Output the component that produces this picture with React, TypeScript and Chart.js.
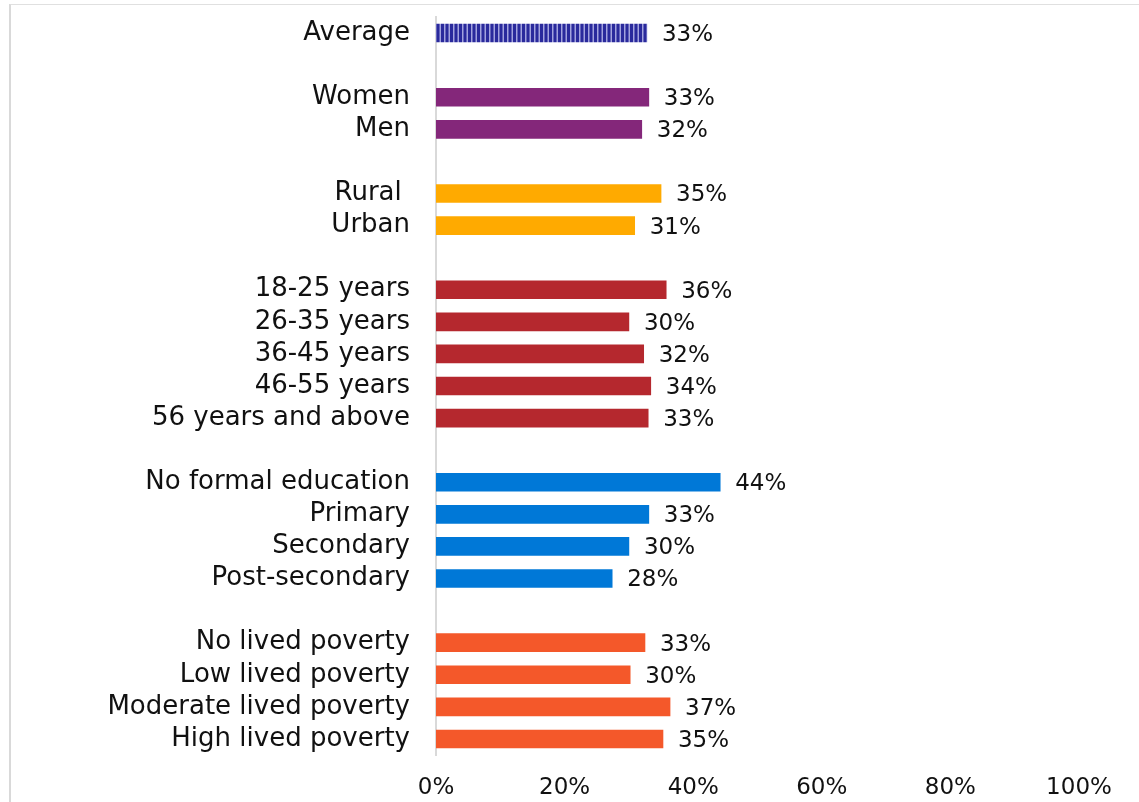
import React, { useEffect, useRef } from 'react';
import { Chart, registerables } from 'chart.js';

Chart.register(...registerables);

const categories = [
  'Average', '',
  'Women', 'Men', '',
  'Rural ', 'Urban', '',
  '18-25 years', '26-35 years', '36-45 years', '46-55 years', '56 years and above', '',
  'No formal education', 'Primary', 'Secondary', 'Post-secondary', '',
  'No lived poverty', 'Low lived poverty', 'Moderate lived poverty', 'High lived poverty',
];

const values: (number | null)[] = [
  32.8, null,
  33.1, 32.0, null,
  35.0, 30.9, null,
  35.8, 30.0, 32.3, 33.4, 33.0, null,
  44.2, 33.1, 30.0, 27.4, null,
  32.5, 30.2, 36.4, 35.3,
];

const valueLabels = [
  '33%', '',
  '33%', '32%', '',
  '35%', '31%', '',
  '36%', '30%', '32%', '34%', '33%', '',
  '44%', '33%', '30%', '28%', '',
  '33%', '30%', '37%', '35%',
];

const groupColors = [
  'pattern', '',
  '#84277A', '#84277A', '',
  '#FFAA00', '#FFAA00', '',
  '#B5282E', '#B5282E', '#B5282E', '#B5282E', '#B5282E', '',
  '#0078D7', '#0078D7', '#0078D7', '#0078D7', '',
  '#F4582A', '#F4582A', '#F4582A', '#F4582A',
];

const xTicks = [0, 20, 40, 60, 80, 100];

const FONT = '"DejaVu Sans", sans-serif';
const CAT_FONT_SIZE = 26;
const NUM_FONT_SIZE = 23;
const TEXT_COLOR = '#111111';

function makePattern(): CanvasPattern | string {
  const c = document.createElement('canvas');
  c.width = 9;
  c.height = 4;
  const ctx = c.getContext('2d');
  if (!ctx) return '#2E2E9E';
  ctx.fillStyle = '#A3A3DE';
  ctx.fillRect(0, 0, 9, 4);
  ctx.fillStyle = '#2A2A9C';
  ctx.fillRect(0, 0, 3, 4);
  ctx.fillRect(4.5, 0, 3, 4);
  const p = ctx.createPattern(c, 'repeat');
  return p || '#2E2E9E';
}

const labelPlugin = {
  id: 'valueLabels',
  afterDatasetsDraw(chart: any) {
    const ctx = chart.ctx;
    const meta = chart.getDatasetMeta(0);
    ctx.save();
    ctx.font = `${NUM_FONT_SIZE}px ${FONT}`;
    ctx.fillStyle = TEXT_COLOR;
    ctx.textAlign = 'left';
    ctx.textBaseline = 'middle';
    meta.data.forEach((bar: any, i: number) => {
      if (values[i] == null) return;
      ctx.fillText(valueLabels[i], bar.x + 15, bar.y + 2);
    });
    ctx.restore();
  },
};

export default function App() {
  const ref = useRef<HTMLCanvasElement>(null);

  useEffect(() => {
    if (!ref.current) return;
    const pattern = makePattern();
    const colors = groupColors.map((c) => (c === 'pattern' ? pattern : c || 'transparent'));
    const chart = new Chart(ref.current, {
      type: 'bar',
      data: {
        labels: categories,
        datasets: [
          {
            data: values,
            backgroundColor: colors as any,
            barThickness: 18,
            borderWidth: 0,
          },
        ],
      },
      options: {
        indexAxis: 'y',
        responsive: false,
        animation: false,
        maintainAspectRatio: false,
        layout: { padding: { top: 17, right: 60, left: 0, bottom: 0 } },
        plugins: {
          legend: { display: false },
          tooltip: { enabled: false },
        },
        scales: {
          x: {
            min: 0,
            max: 100,
            afterBuildTicks: (scale: any) => {
              scale.ticks = xTicks.map((v) => ({ value: v }));
            },
            afterFit: (scale: any) => {
              scale.height = 47;
              scale.paddingLeft = 0;
              scale.paddingRight = 0;
            },
            grid: { display: false, drawTicks: false },
            border: { display: false },
            ticks: {
              padding: 19,
              color: TEXT_COLOR,
              font: { family: FONT, size: NUM_FONT_SIZE },
              callback: (v: any) => `${v}%`,
              maxRotation: 0,
            },
          },
          y: {
            afterFit: (scale: any) => {
              scale.width = 436;
              scale.paddingTop = 0;
              scale.paddingBottom = 0;
            },
            grid: { display: false, drawTicks: false },
            border: { display: true, color: '#D9D9D9', width: 2 },
            ticks: {
              padding: 26,
              color: TEXT_COLOR,
              font: { family: FONT, size: CAT_FONT_SIZE },
              autoSkip: false,
            },
          },
        },
      },
      plugins: [labelPlugin],
    });
    return () => chart.destroy();
  }, []);

  return (
    <div style={{ position: 'absolute', left: 0, top: 0, width: 1139, height: 802, background: '#fff' }}>
      <canvas ref={ref} width={1139} height={802} style={{ display: 'block' }} />
      <div
        style={{
          position: 'absolute',
          left: 9,
          top: 4,
          width: 1130,
          height: 798,
          borderLeft: '2px solid #D9D9D9',
          borderTop: '1px solid #E0E0E0',
          pointerEvents: 'none',
        }}
      />
    </div>
  );
}
